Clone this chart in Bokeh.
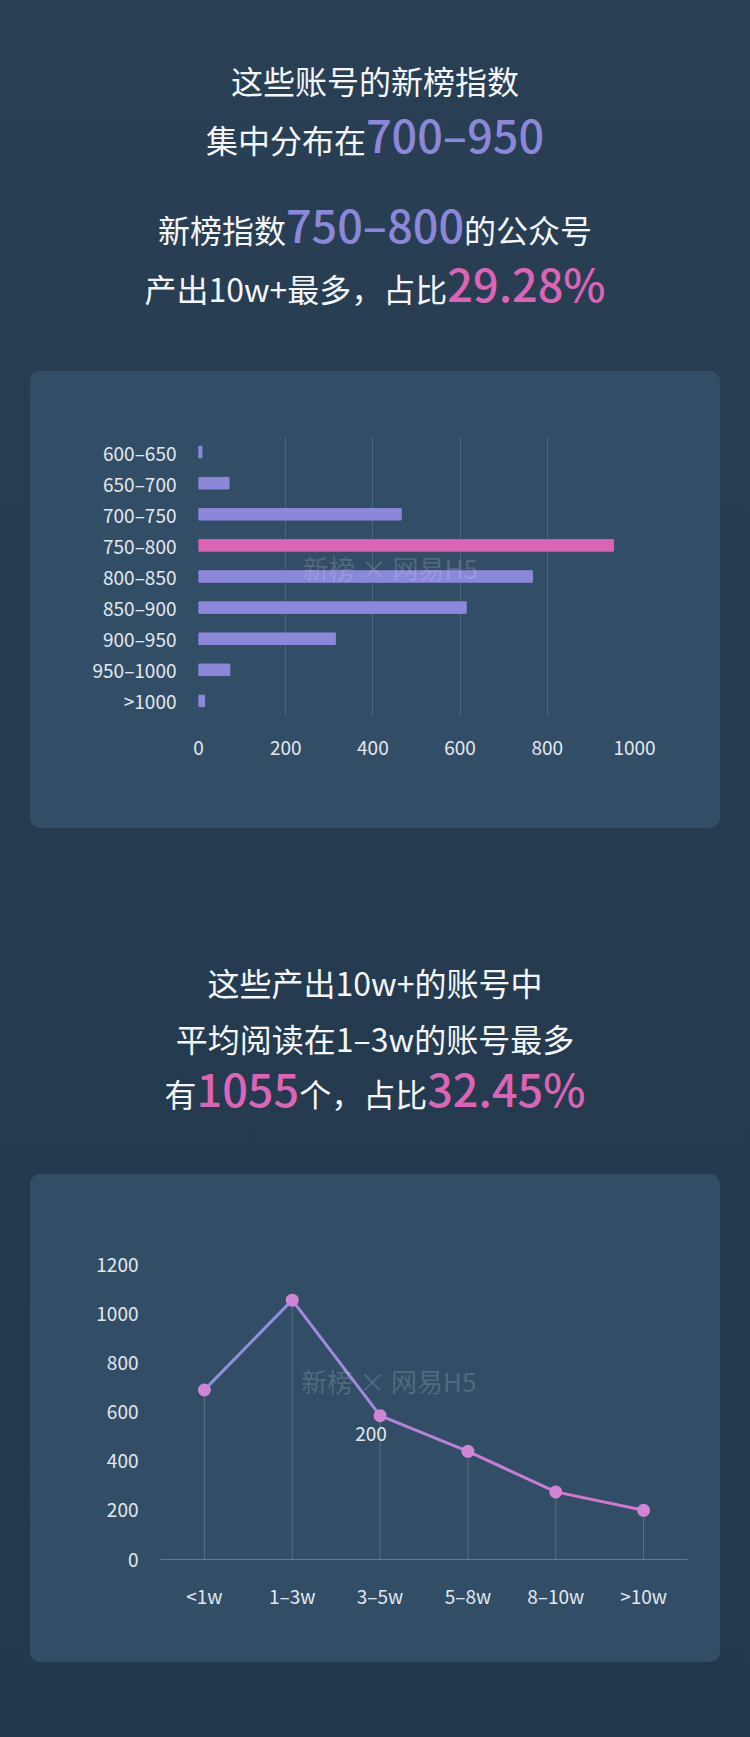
from bokeh.plotting import figure
from bokeh.models import FactorRange, Range1d, FixedTicker, Div, Label, ColumnDataSource
from bokeh.layouts import column
from bokeh.embed import file_html
from bokeh.resources import INLINE
from bokeh.core.properties import value

# ---------------- data ----------------
score_bins = ["600–650", "650–700", "700–750", "750–800", "800–850",
              "850–900", "900–950", "950–1000", ">1000"]
score_counts = [8, 70, 465, 952, 766, 614, 314, 72, 14]
score_highlight = "750–800"
score_ticks = [0, 200, 400, 600, 800, 1000]

read_bins = ["<1w", "1–3w", "3–5w", "5–8w", "8–10w", ">10w"]
read_counts = [690, 1055, 585, 440, 275, 200]
read_ticks = [0, 200, 400, 600, 800, 1000, 1200]
note_bins = ["3–5w"]
note_values = [585]
note_texts = ["200"]

# ---------------- style ----------------
FONT = "Noto Sans CJK SC"
PAGE_BG = "linear-gradient(180deg, #293f54 0%, #253b50 50%, #22384d 100%)"
PANEL = "#324e67"
LAVENDER = "#8b87d9"
PINK = "#dc64b4"
LABEL = "#e3e8ef"
WHITE = "#f4f6f9"


def text_line(center, parts):
    spans = "".join(
        f'<span style="font-size:{sz}px;color:{col};font-weight:{wt};">{t}</span>'
        for t, col, sz, wt in parts
    )
    return (f'<div style="position:absolute;left:0;top:{center - 40}px;width:750px;'
            f'height:80px;line-height:80px;text-align:center;white-space:nowrap;'
            f'font-family:\'{FONT}\',sans-serif;">{spans}</div>')


def text_block(h, lines):
    inner = "".join(text_line(c, parts) for c, parts in lines)
    return Div(text=f'<div style="position:relative;width:750px;height:{h}px;">{inner}</div>',
               width=750, height=h, margin=0)


CN, NUM = 32, 45


def cn(t):
    return (t, WHITE, CN, 400)


def num(t, col):
    return (t, col, NUM, 500)


header = text_block(371, [
    (80, [cn("这些账号的新榜指数")]),
    (134, [cn("集中分布在"), num("700–950", LAVENDER)]),
    (224, [cn("新榜指数"), num("750–800", LAVENDER), cn("的公众号")]),
    (283, [cn("产出10w+最多，占比"), num("29.28%", PINK)]),
])

middle = text_block(346, [
    (154, [cn("这些产出10w+的账号中")]),
    (210, [cn("平均阅读在1–3w的账号最多")]),
    (260, [cn("有"), num("1055", PINK), cn("个，占比"), num("32.45%", PINK)]),
])

footer = Div(text="", width=750, height=75, margin=0)

panel_styles = {"border-radius": "10px", "overflow": "hidden", "background": PANEL}

# ---------------- bar chart ----------------
bar_src = ColumnDataSource(dict(
    bin=score_bins,
    count=score_counts,
    color=[PINK if b == score_highlight else LAVENDER for b in score_bins],
))

p1 = figure(width=690, height=457,
            y_range=FactorRange(*reversed(score_bins)),
            x_range=Range1d(0, 1000),
            output_backend="svg", toolbar_location=None,
            min_border_left=168, min_border_right=86,
            min_border_top=65, min_border_bottom=112,
            margin=(0, 30, 0, 30), styles=panel_styles)
p1.frame_align = False
p1.background_fill_color = None
p1.border_fill_color = None
p1.outline_line_color = None

p1.hbar(y="bin", left=0, right="count", height=0.37, color="color", source=bar_src)

p1.xaxis.ticker = FixedTicker(ticks=score_ticks)
p1.xgrid.grid_line_color = "#ffffff"
p1.xgrid.grid_line_alpha = 0.13
p1.ygrid.grid_line_color = None
for ax in (p1.xaxis[0], p1.yaxis[0]):
    ax.axis_line_color = None
    ax.major_tick_line_color = None
    ax.minor_tick_line_color = None
    ax.major_label_text_font = FONT
    ax.major_label_text_font_size = "19px"
    ax.major_label_text_color = LABEL
p1.xaxis.major_label_standoff = 18
p1.yaxis.major_label_standoff = 16

p1.add_layout(Label(x=440, y=4.8, text="新榜 × 网易H5", text_align="center",
                    text_baseline="middle", text_font=FONT, text_font_size="26px",
                    text_color="#ffffff", text_alpha=0.16))

# ---------------- line chart ----------------
line_src = ColumnDataSource(dict(bin=read_bins, count=read_counts))
seg_src = ColumnDataSource(dict(
    x0=read_bins[:-1], x1=read_bins[1:],
    y0=read_counts[:-1], y1=read_counts[1:],
    color=["#8f8fe0", "#a189dc", "#b683d8", "#c77dd3", "#d477cd"],
))

p2 = figure(width=690, height=488,
            x_range=FactorRange(*read_bins),
            y_range=Range1d(0, 1200),
            output_backend="svg", toolbar_location=None,
            min_border_left=130, min_border_right=33,
            min_border_top=90, min_border_bottom=103,
            margin=(0, 30, 0, 30), styles=panel_styles)
p2.frame_align = False
p2.background_fill_color = None
p2.border_fill_color = None
p2.outline_line_color = None
p2.xgrid.grid_line_color = None
p2.ygrid.grid_line_color = None

p2.segment(x0="bin", y0=0, x1="bin", y1="count", line_color="#ffffff",
           line_alpha=0.2, line_width=1, source=line_src)
p2.segment(x0="x0", y0="y0", x1="x1", y1="y1", line_color="color",
           line_width=3, line_cap="round", source=seg_src)
p2.scatter(x="bin", y="count", size=13, fill_color="#d284d6", line_color=None,
           source=line_src)
p2.text(x=note_bins, y=note_values, text=note_texts, x_offset=-9, y_offset=18,
        text_align="center", text_baseline="middle", text_font=value(FONT),
        text_font_size="19px", text_color=LABEL)

p2.yaxis.ticker = FixedTicker(ticks=read_ticks)
for ax in (p2.xaxis[0], p2.yaxis[0]):
    ax.major_tick_line_color = None
    ax.minor_tick_line_color = None
    ax.major_label_text_font = FONT
    ax.major_label_text_font_size = "19px"
    ax.major_label_text_color = LABEL
p2.yaxis.axis_line_color = None
p2.xaxis.axis_line_color = "#ffffff"
p2.xaxis.axis_line_alpha = 0.25
p2.xaxis.major_label_standoff = 16
p2.yaxis.major_label_standoff = 16

p2.add_layout(Label(x=2.6, y=730, text="新榜 × 网易H5", text_align="center",
                    text_baseline="middle", text_font=FONT, text_font_size="26px",
                    text_color="#ffffff", text_alpha=0.16))

page = column(header, p1, middle, p2, footer, spacing=0, width=750, height=1737,
              styles={"background": PAGE_BG})

open("out.html", "w").write(file_html(page, INLINE))
